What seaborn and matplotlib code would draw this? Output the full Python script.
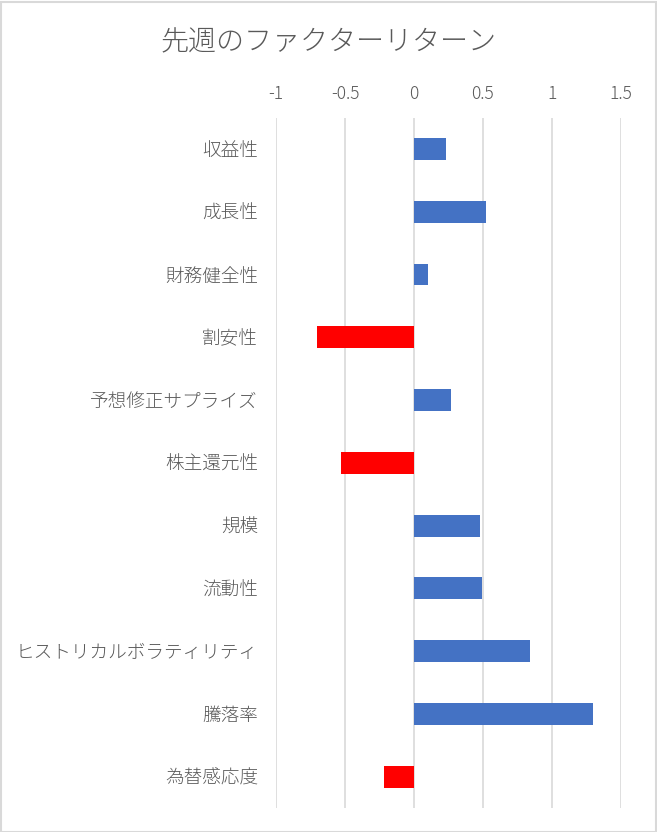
import matplotlib
matplotlib.use("Agg")
import matplotlib.pyplot as plt
import seaborn as sns
import pandas as pd
from matplotlib.patches import Rectangle

categories = ["収益性", "成長性", "財務健全性", "割安性", "予想修正サプライズ", "株主還元性",
              "規模", "流動性", "ヒストリカルボラティリティ", "騰落率", "為替感応度"]
values = [0.235, 0.52, 0.10, -0.70, 0.27, -0.53, 0.48, 0.49, 0.84, 1.30, -0.22]
x_ticks = [-1, -0.5, 0, 0.5, 1, 1.5]
x_tick_labels = ["-1", "-0.5", "0", "0.5", "1", "1.5"]
title = "先週のファクターリターン"

sns.set_theme(style="white")
plt.rcParams["font.family"] = ["Noto Sans CJK JP", "DejaVu Sans"]
plt.rcParams["font.weight"] = "light"

df = pd.DataFrame({"factor": categories, "value": values})
df["sign"] = ["pos" if v >= 0 else "neg" for v in values]

fig = plt.figure(figsize=(6.57, 8.32), dpi=100)
fig.patch.set_facecolor("white")
ax = fig.add_axes([276/657, 1 - 808/832, (621 - 276)/657, (808 - 117.6)/832])

sns.barplot(data=df, x="value", y="factor", hue="sign", orient="h",
            palette={"pos": "#4472C4", "neg": "#FF0000"}, dodge=False,
            width=0.35, legend=False, ax=ax, order=categories, saturation=1,
            edgecolor="none", linewidth=0)

ax.set_xlim(-1, 1.5)
ax.set_ylim(10.5, -0.5)
ax.set_xticks(x_ticks)
ax.set_xticklabels(x_tick_labels)
ax.xaxis.tick_top()
ax.tick_params(axis="x", length=0, pad=10.5, labelsize=12.5, labelcolor="#595959")
ax.tick_params(axis="y", length=0, pad=13, labelsize=13.4, labelcolor="#595959")
ax.set_xlabel("")
ax.set_ylabel("")
ax.grid(axis="x", color="#D9D9D9", linewidth=1.2)
ax.set_axisbelow(True)
for s in ax.spines.values():
    s.set_visible(False)

fig.text(0.5, 1 - 42/832, title, ha="center", va="center", fontsize=20.2, color="#595959")
fig.patches.append(Rectangle((0.5/657, 0.5/832), 1 - 2/657, 1 - 2/832, transform=fig.transFigure,
                             fill=False, edgecolor="#D9D9D9", linewidth=1.5))

fig.savefig("out.png", dpi=100, facecolor="white")
